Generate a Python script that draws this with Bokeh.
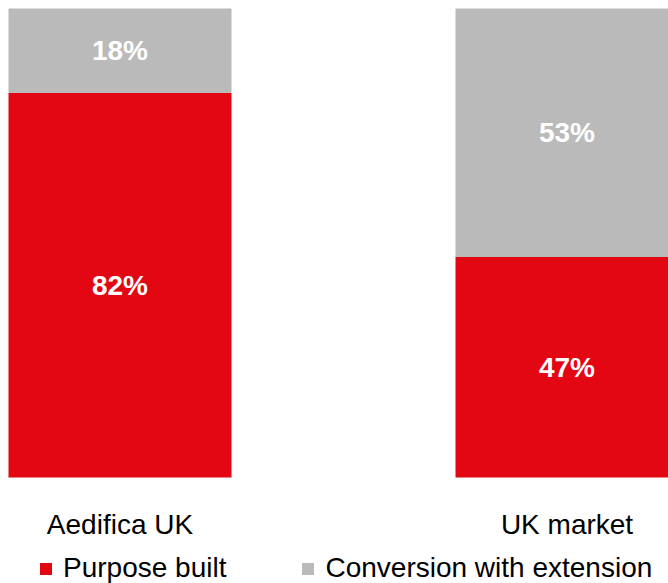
from bokeh.plotting import figure
from bokeh.models import ColumnDataSource, Range1d, Legend, LegendItem
from bokeh.core.properties import value
from bokeh.embed import file_html
from bokeh.resources import INLINE

# ---- data ----
categories = ["Aedifica UK", "UK market"]
purpose_built = [82, 47]
conversion_ext = [18, 53]
series_names = ["Purpose built", "Conversion with extension"]

RED = "#E30613"
GRAY = "#BABABA"
FONT = "Liberation Sans"

W, H = 668, 583
XU = 447.0   # px per category unit
YU = 4.69    # px per percent
x0 = -119.5 / XU
y1 = 100 + 8 / YU

xs = list(range(len(categories)))
source = ColumnDataSource(dict(x=xs, purpose=purpose_built, conversion=conversion_ext))

p = figure(width=W, height=H, output_backend="svg", toolbar_location=None,
           x_range=Range1d(x0, x0 + W / XU), y_range=Range1d(y1 - H / YU, y1),
           min_border=0, outline_line_color=None)
p.axis.visible = False
p.grid.visible = False
p.background_fill_color = "white"
p.border_fill_color = "white"

renderers = p.vbar_stack(["purpose", "conversion"], x="x", width=223 / XU, source=source,
                         color=[RED, GRAY], line_color=None)

# value labels centred in each segment
lab_x, lab_y, lab_t = [], [], []
for i in xs:
    lab_x += [i, i]
    lab_y += [purpose_built[i] / 2, purpose_built[i] + conversion_ext[i] / 2]
    lab_t += [f"{purpose_built[i]}%", f"{conversion_ext[i]}%"]
p.text(x=lab_x, y=lab_y, text=lab_t, text_color="white", text_font=value(FONT),
       text_font_style="bold", text_font_size="28px", text_align="center", text_baseline="middle")

# category labels
p.text(x=xs, y=[-10.0] * len(xs), text=categories, text_color="black", text_font=value(FONT),
       text_font_size="28px", text_align="center", text_baseline="alphabetic")

legend = Legend(items=[LegendItem(label=series_names[0], renderers=[renderers[0]]),
                       LegendItem(label=series_names[1], renderers=[renderers[1]])],
                orientation="horizontal", location=(38, -1),
                glyph_width=15, glyph_height=15, label_standoff=10, spacing=74,
                padding=0, margin=0, border_line_color=None, background_fill_alpha=0,
                label_text_font=FONT, label_text_font_size="28px", label_text_color="black")
p.add_layout(legend)

open("out.html", "w").write(file_html(p, INLINE))
